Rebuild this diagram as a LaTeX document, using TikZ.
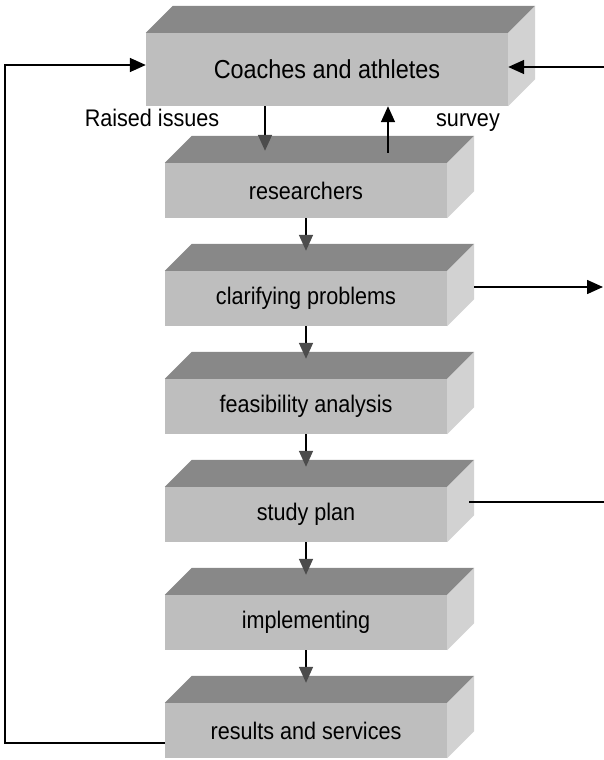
\documentclass[tikz,border=0pt]{standalone}
\usepackage{fontspec}
\setmainfont{Liberation Sans}[FakeStretch=0.9]
\usetikzlibrary{arrows.meta,calc}
\definecolor{frontgray}{RGB}{190,190,190}
\definecolor{topgray}{RGB}{136,136,136}
\definecolor{sidegray}{RGB}{210,210,210}
% top and right faces of a block
\newcommand{\blockfaces}[1]{%
  \fill[topgray] (#1.north west) -- ++(27,-27) -- ($(#1.north east)+(27,-27)$) -- (#1.north east) -- cycle;
  \fill[sidegray] (#1.north east) -- ++(27,-27) -- ($(#1.south east)+(27,-27)$) -- (#1.south east) -- cycle;}

\begin{document}
\begin{tikzpicture}[x=1pt, y=-1pt, >={Triangle[length=16pt,width=14pt]},
    block/.style={fill=frontgray, minimum width=282pt, minimum height=55pt, inner sep=0pt, font=\fontsize{24}{28}\selectfont},
    lbl/.style={anchor=base, font=\fontsize{24}{28}\selectfont},
    flow/.style={->, line width=1.6pt},
    down/.style={-{Triangle[length=16pt,width=14pt,color=black!70]}, line width=1.6pt}]
        \useasboundingbox (0,0) rectangle (604,760);
        \node[block, minimum width=362pt, minimum height=73pt, font=\fontsize{26}{30}\selectfont] (coach) at (327,69.5) {Coaches and athletes};
        \node[block] (res) at (306,190.5) {researchers};
        \node[block] (clar) at (306,298.5) {clarifying problems};
        \node[block] (feas) at (306,406.5) {feasibility analysis};
        \node[block] (plan) at (306,514.5) {study plan};
        \node[block] (impl) at (306,622.5) {implementing};
        \node[block] (resu) at (306,730.5) {results and services};
        \foreach \b in {coach,res,clar,feas,plan,impl,resu} {\blockfaces{\b}}
        \foreach \a/\b in {res/clar, clar/feas, feas/plan, plan/impl, impl/resu}
            \draw[down] (\a.south) -- ($(\b.north)+(0,-20)$);
        \node[lbl] (raised) at (152,126) {Raised issues};
        \node[lbl] (survey) at (468,126) {survey};
        \draw[down] ($(coach.south)+(-62,0)$) -- ($(res.north)+(-41,-12)$);
        \draw[flow] ($(res.north)+(82,-10)$) -- ($(coach.south)+(61,0)$);
        % feedback loop and side links
        \coordinate (fb) at (5,65);
        \draw[flow] ($(resu.south west)+(0,-15)$) -| (fb) -- (fb -| coach.west);
        \coordinate (inR) at (604,67);
        \draw[flow] (inR) -- (inR -| coach.east);
        \coordinate (outA) at (603,287);
        \draw[flow] ($(clar.east)+(27,-11.5)$) -- (outA);
        \coordinate (outB) at (604,502);
        \draw[line width=1.6pt] ($(plan.east)+(22,-12.5)$) -- (outB);
    \end{tikzpicture}
\end{document}
